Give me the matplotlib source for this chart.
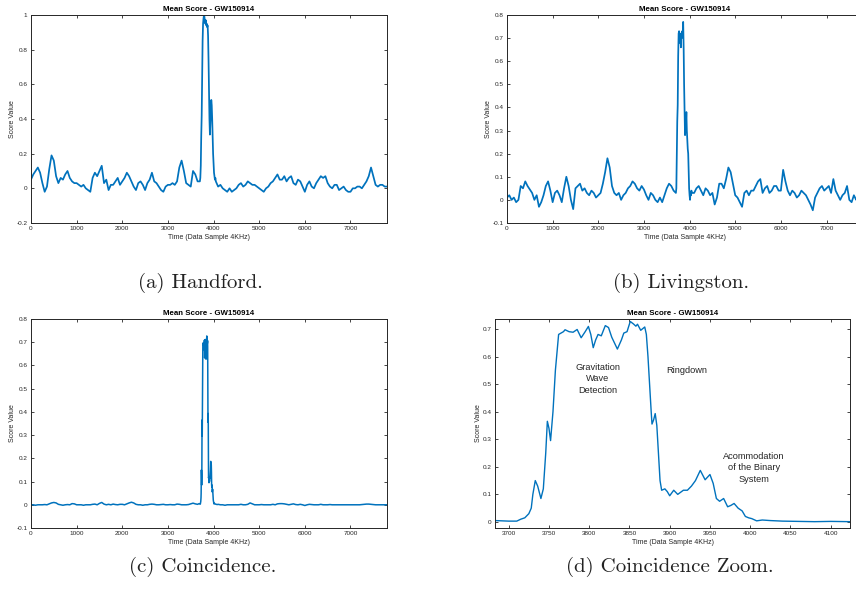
import numpy as np
import matplotlib
matplotlib.use("Agg")
import matplotlib.pyplot as plt
from matplotlib.ticker import FuncFormatter

# ---- data ----
step = 50
samples = np.arange(0, 7801, step)

# Handford, coarse trace every 50 samples
handford = [
    0.05, 0.08, 0.10, 0.12, 0.09, 0.03, -0.02, 0.01, 0.11, 0.19,
    0.16, 0.07, 0.03, 0.06, 0.05, 0.08, 0.10, 0.06, 0.04, 0.03,
    0.03, 0.02, 0.01, 0.02, 0.00, -0.01, -0.02, 0.06, 0.09, 0.07,
    0.10, 0.13, 0.03, 0.05, -0.01, 0.02, 0.02, 0.04, 0.06, 0.02,
    0.04, 0.06, 0.09, 0.07, 0.04, 0.01, -0.01, 0.03, 0.04, 0.02,
    -0.01, 0.03, 0.05, 0.09, 0.04, 0.03, 0.01, -0.01, -0.02, 0.01,
    0.02, 0.02, 0.03, 0.02, 0.04, 0.12, 0.16, 0.10, 0.03, 0.02,
    0.01, 0.10, 0.08, 0.04, 0.04, 0.62, 0.99, 0.95, 0.55, 0.51,
    0.14, 0.05, 0.01, 0.02, 0.00, -0.01, -0.02, 0.00, -0.02, -0.01,
    0.00, 0.02, 0.03, 0.01, 0.02, 0.04, 0.03, 0.02, 0.02, 0.01,
    0.00, -0.01, -0.02, 0.00, 0.01, 0.03, 0.04, 0.06, 0.08, 0.05,
    0.05, 0.07, 0.04, 0.06, 0.07, 0.03, 0.02, 0.05, 0.04, 0.01,
    -0.02, 0.02, 0.04, 0.01, 0.00, 0.03, 0.05, 0.07, 0.06, 0.07,
    0.03, 0.01, 0.00, 0.02, 0.02, -0.01, 0.00, 0.01, -0.01, -0.02,
    -0.02, 0.00, 0.00, 0.01, 0.01, 0.00, 0.02, 0.04, 0.07, 0.12,
    0.07, 0.02, 0.01, 0.02, 0.02, 0.01, 0.01,
]
# Handford event, every 10 samples from 3700 to 4050
event_x = np.arange(3700, 4051, 10)
handford_event = [
    0.04, 0.06, 0.13, 0.30, 0.42, 0.62, 0.85, 0.95, 0.98, 1.00,
    0.99, 0.96, 0.95, 0.97, 0.94, 0.95, 0.93, 0.94, 0.88, 0.74,
    0.55, 0.40, 0.31, 0.38, 0.46, 0.51, 0.48, 0.40, 0.30, 0.20,
    0.14, 0.09, 0.07, 0.05, 0.06, 0.04,
]

livingston = [
    0.01, 0.02, 0.00, 0.01, -0.01, 0.00, 0.06, 0.05, 0.08, 0.06,
    0.045, 0.03, 0.00, 0.02, -0.03, -0.01, 0.02, 0.06, 0.08, 0.04,
    -0.01, 0.03, 0.04, 0.02, -0.01, 0.05, 0.10, 0.06, 0.00, -0.04,
    0.05, 0.06, 0.07, 0.04, 0.05, 0.03, 0.02, 0.04, 0.03, 0.01,
    0.02, 0.03, 0.07, 0.12, 0.18, 0.14, 0.06, 0.03, 0.02, 0.03,
    0.00, 0.02, 0.03, 0.05, 0.06, 0.08, 0.07, 0.05, 0.04, 0.06,
    0.045, 0.02, 0.00, 0.03, 0.02, 0.00, -0.01, 0.01, -0.01, 0.02,
    0.05, 0.07, 0.06, 0.04, 0.03, 0.62, 0.70, 0.72, 0.28, 0.26,
    0.02, 0.03, 0.03, 0.05, 0.06, 0.04, 0.02, 0.05, 0.04, 0.02,
    0.03, -0.02, 0.01, 0.07, 0.07, 0.05, 0.09, 0.14, 0.12, 0.07,
    0.02, 0.01, -0.01, -0.03, 0.03, 0.04, 0.02, 0.04, 0.04, 0.06,
    0.08, 0.09, 0.03, 0.05, 0.06, 0.03, 0.04, 0.06, 0.06, 0.04,
    0.04, 0.13, 0.08, 0.04, 0.02, 0.04, 0.03, 0.01, 0.02, 0.04,
    0.03, 0.02, 0.00, -0.02, -0.045, 0.01, 0.03, 0.05, 0.06, 0.04,
    0.05, 0.06, 0.03, 0.09, 0.04, 0.02, 0.00, 0.02, 0.03, 0.06,
    0.00, -0.01, 0.02, 0.00, 0.01, 0.02, 0.00,
]
livingston_event = [
    0.03, 0.05, 0.20, 0.34, 0.41, 0.62, 0.72, 0.73, 0.68, 0.72,
    0.70, 0.66, 0.72, 0.70, 0.73, 0.72, 0.77, 0.66, 0.50, 0.40,
    0.28, 0.30, 0.33, 0.38, 0.30, 0.26, 0.22, 0.20, 0.12, 0.05,
    0.02, 0.00, 0.03, 0.02, 0.04, 0.03,
]

coincidence = [
    0.0, 0.0, -0.002, 0.0, 0.0, 0.0, 0.001, 0.0, 0.004, 0.008,
    0.01, 0.008, 0.002, 0.0, -0.002, 0.0, 0.001, 0.0, 0.005, 0.004,
    0.0, 0.0, 0.0, -0.002, 0.0, 0.0, 0.0, 0.002, 0.003, 0.0,
    0.006, 0.01, 0.003, 0.0, 0.002, 0.0, 0.003, 0.001, 0.0, 0.002,
    0.002, 0.0, 0.004, 0.008, 0.011, 0.008, 0.002, 0.0, 0.0, -0.002,
    0.0, 0.0, 0.002, 0.003, 0.002, 0.0, 0.0, 0.001, 0.002, 0.0,
    0.0, 0.001, 0.0, 0.0, 0.003, 0.002, 0.0, 0.0, 0.0, 0.001,
    0.004, 0.007, 0.004, 0.002, 0.003, 0.6, 0.68, 0.70, 0.10, 0.16,
    0.015, 0.003, 0.002, 0.0, 0.0, -0.002, 0.0, 0.0, 0.0, 0.0,
    0.0, 0.0, 0.002, 0.0, 0.0, 0.002, 0.008, 0.004, 0.0, 0.0,
    0.0, 0.001, 0.0, 0.0, 0.0, 0.0, 0.002, 0.0, 0.004, 0.005,
    0.005, 0.004, 0.002, 0.0, 0.002, 0.004, 0.001, 0.0, 0.002, 0.0,
    -0.003, 0.0, 0.002, 0.001, 0.0, 0.0, 0.0, 0.002, 0.0, 0.0,
    0.0, 0.001, 0.0, 0.0, 0.0, 0.0, 0.0, 0.0, 0.0, 0.0,
    0.0, 0.0, 0.0, 0.0, 0.0, 0.001, 0.002, 0.003, 0.003, 0.002,
    0.001, 0.0, 0.0, 0.0, 0.0, 0.0, 0.0,
]

# Coincidence zoom (detailed trace around the event)
zoom_x = [
    3683, 3700, 3710, 3715, 3720, 3725, 3728, 3730, 3733, 3736,
    3740, 3743, 3746, 3748, 3750, 3752, 3755, 3758, 3762, 3765,
    3768, 3770, 3775, 3780, 3785, 3790, 3795, 3799, 3802, 3805,
    3808, 3811, 3815, 3820, 3824, 3828, 3835, 3840, 3843, 3847,
    3851, 3855, 3858, 3860, 3864, 3869, 3871, 3873, 3875, 3877,
    3878, 3880, 3882, 3884, 3886, 3888, 3890, 3894, 3897, 3900,
    3905, 3910, 3917, 3922, 3927, 3932, 3938, 3944, 3950, 3954,
    3958, 3962, 3967, 3972, 3976, 3980, 3985, 3990, 3994, 3998,
    4002, 4008, 4015, 4025, 4040, 4060, 4080, 4100, 4124,
]
zoom_y = [
    0.005, 0.003, 0.003, 0.01, 0.015, 0.03, 0.05, 0.10, 0.15, 0.13,
    0.085, 0.12, 0.25, 0.365, 0.34, 0.295, 0.40, 0.55, 0.68, 0.685,
    0.69, 0.697, 0.69, 0.688, 0.698, 0.668, 0.69, 0.709, 0.68, 0.632,
    0.66, 0.68, 0.675, 0.712, 0.705, 0.67, 0.627, 0.66, 0.685, 0.69,
    0.727, 0.718, 0.71, 0.717, 0.695, 0.707, 0.68, 0.60, 0.50, 0.40,
    0.355, 0.37, 0.393, 0.35, 0.25, 0.15, 0.115, 0.12, 0.11, 0.095,
    0.115, 0.10, 0.115, 0.115, 0.13, 0.15, 0.187, 0.153, 0.172, 0.14,
    0.085, 0.075, 0.085, 0.055, 0.06, 0.067, 0.05, 0.04, 0.02, 0.015,
    0.012, 0.004, 0.007, 0.005, 0.003, 0.002, 0.001, 0.002, 0.001,
]

captions = ["(a) Handford.", "(b) Livingston.", "(c) Coincidence.", "(d) Coincidence Zoom."]
title = "Mean Score - GW150914"
xlabel = "Time (Data Sample 4KHz)"
ylabel = "Score Value"


def merge(x_lo, y_lo, x_hi, y_hi):
    # replace the coarse trace by the detailed one inside the event window
    x_lo = np.asarray(x_lo, float)
    y_lo = np.asarray(y_lo, float)
    x_hi = np.asarray(x_hi, float)
    keep = (x_lo < x_hi.min()) | (x_lo > x_hi.max())
    x = np.concatenate([x_lo[keep], x_hi])
    y = np.concatenate([y_lo[keep], np.asarray(y_hi, float)])
    order = np.argsort(x)
    return x[order], y[order]


plt.rcParams["font.family"] = ["Liberation Sans", "DejaVu Sans"]
BLUE = "#0072BD"
DARK = "#262626"

fig = plt.figure(figsize=(8.56, 6.02), dpi=100)


def style(ax, xlim, ylim, yticks, xticks):
    ax.set_xlim(*xlim)
    ax.set_ylim(*ylim)
    ax.set_xticks(xticks)
    ax.set_yticks(yticks)
    fmt = FuncFormatter(lambda v, p: ("%g" % round(v, 3)).replace("\u2212", "-"))
    ax.xaxis.set_major_formatter(fmt)
    ax.yaxis.set_major_formatter(fmt)
    ax.tick_params(direction="in", length=2.5, width=0.6, top=True, right=True,
                   labelsize=4.6, colors=DARK, pad=2.5)
    for s in ax.spines.values():
        s.set_color(DARK)
        s.set_linewidth(0.7)
    ax.set_title(title, fontsize=5.7, fontweight="bold", pad=3, color="black")
    ax.set_xlabel(xlabel, fontsize=5, color=DARK, labelpad=2)
    ax.set_ylabel(ylabel, fontsize=5, color=DARK, labelpad=0.5)


full_x = np.arange(0, 7001, 1000)

ax_a = fig.add_axes([0.0362, 0.6296, 0.4159, 0.3455])
xa, ya = merge(samples, handford, event_x, handford_event)
ax_a.plot(xa, ya, color=BLUE, lw=1.25)
style(ax_a, (0, 7800), (-0.2, 1.0), np.arange(-0.2, 1.01, 0.2), full_x)

ax_b = fig.add_axes([0.5923, 0.6296, 0.4159, 0.3455])
xb, yb = merge(samples, livingston, event_x, livingston_event)
ax_b.plot(xb, yb, color=BLUE, lw=1.25)
style(ax_b, (0, 7800), (-0.1, 0.8), np.arange(-0.1, 0.81, 0.1), full_x)

ax_c = fig.add_axes([0.0362, 0.1229, 0.4159, 0.3472])
xc, yc = merge(samples, coincidence, zoom_x, zoom_y)
ax_c.plot(xc, yc, color=BLUE, lw=1.1)
style(ax_c, (0, 7800), (-0.1, 0.8), np.arange(-0.1, 0.81, 0.1), full_x)

ax_d = fig.add_axes([0.5783, 0.1229, 0.4147, 0.3472])
ax_d.plot(zoom_x, zoom_y, color=BLUE, lw=1.0)
style(ax_d, (3683, 4124), (-0.022, 0.736), np.arange(0, 0.71, 0.1), np.arange(3700, 4101, 50))

note_kw = dict(fontsize=6.7, color=DARK, ha="center", va="center", linespacing=1.35)
ax_d.text(3811, 0.519, "Gravitation\nWave\nDetection", **note_kw)
ax_d.text(3921, 0.548, "Ringdown", **note_kw)
ax_d.text(4005, 0.196, "Acommodation\nof the Binary\nSystem", **note_kw)

cap_pos = [(200, 283), (681, 283), (203, 567), (670, 567)]
for txt, (px, py) in zip(captions, cap_pos):
    fig.text(px / 856, 1 - py / 602, txt, fontsize=15, family="cmr10",
             ha="center", va="center", color="#222222")

fig.savefig("out.png", dpi=100)
